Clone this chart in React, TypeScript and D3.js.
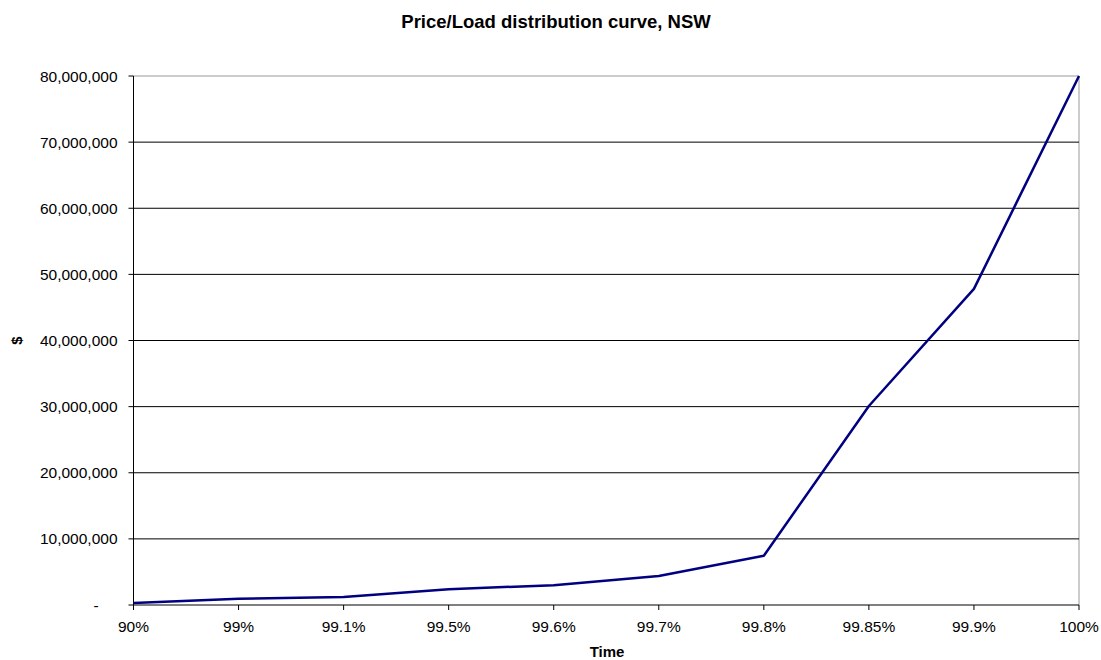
import React from "react";
import * as d3 from "d3";

const categories = ["90%", "99%", "99.1%", "99.5%", "99.6%", "99.7%", "99.8%", "99.85%", "99.9%", "100%"];
const values = [300000, 950000, 1200000, 2400000, 3000000, 4400000, 7450000, 30100000, 47800000, 80000000];
const yTicks = [0, 10000000, 20000000, 30000000, 40000000, 50000000, 60000000, 70000000, 80000000];

const W = 1101;
const H = 660;
const left = 133.5;
const right = 1079;
const top = 76;
const bottom = 605;

export default function App() {
  const x = d3.scalePoint<string>().domain(categories).range([left, right]).padding(0);
  const y = d3.scaleLinear().domain([0, 80000000]).range([bottom, top]);
  const fmt = d3.format(",");
  const line = d3
    .line<number>()
    .x((_, i) => x(categories[i]) as number)
    .y((d) => y(d));
  const font = "'Liberation Sans', Arial, sans-serif";

  return (
    <svg width={W} height={H} style={{ position: "absolute", left: 0, top: 0 }} fontFamily={font}>
      <rect width={W} height={H} fill="#fff" />
      <text x={556} y={28} textAnchor="middle" fontSize={18.5} fontWeight="bold">
        Price/Load distribution curve, NSW
      </text>
      {/* plot frame */}
      <line x1={left} x2={right} y1={top} y2={top} stroke="#999" />
      <line x1={right} x2={right} y1={top} y2={bottom} stroke="#999" />
      {/* gridlines + y ticks */}
      {yTicks.map((t) => (
        <g key={t}>
          {t > 0 && t < 80000000 && (
            <line x1={left} x2={right} y1={y(t)} y2={y(t)} stroke="#000" strokeWidth={1} />
          )}
          <line x1={left - 5} x2={left} y1={y(t)} y2={y(t)} stroke="#000" />
          <text
            x={t === 0 ? 96 : 117.5}
            y={y(t) + 5.5}
            textAnchor={t === 0 ? "middle" : "end"}
            fontSize={15.5}
          >
            {t === 0 ? "-" : fmt(t)}
          </text>
        </g>
      ))}
      {/* axes */}
      <line x1={left} x2={left} y1={top} y2={bottom} stroke="#000" />
      <line x1={left} x2={right} y1={bottom} y2={bottom} stroke="#000" />
      {categories.map((c) => (
        <g key={c}>
          <line x1={x(c)} x2={x(c)} y1={bottom} y2={bottom + 5} stroke="#000" />
          <text x={x(c)} y={632} textAnchor="middle" fontSize={15.5}>
            {c}
          </text>
        </g>
      ))}
      <path d={line(values) || ""} fill="none" stroke="#000080" strokeWidth={2.5} strokeLinejoin="round" />
      <text x={607} y={657} textAnchor="middle" fontSize={15} fontWeight="bold">
        Time
      </text>
      <text transform={`translate(22,340.5) rotate(-90)`} textAnchor="middle" fontSize={15} fontWeight="bold">
        $
      </text>
    </svg>
  );
}
